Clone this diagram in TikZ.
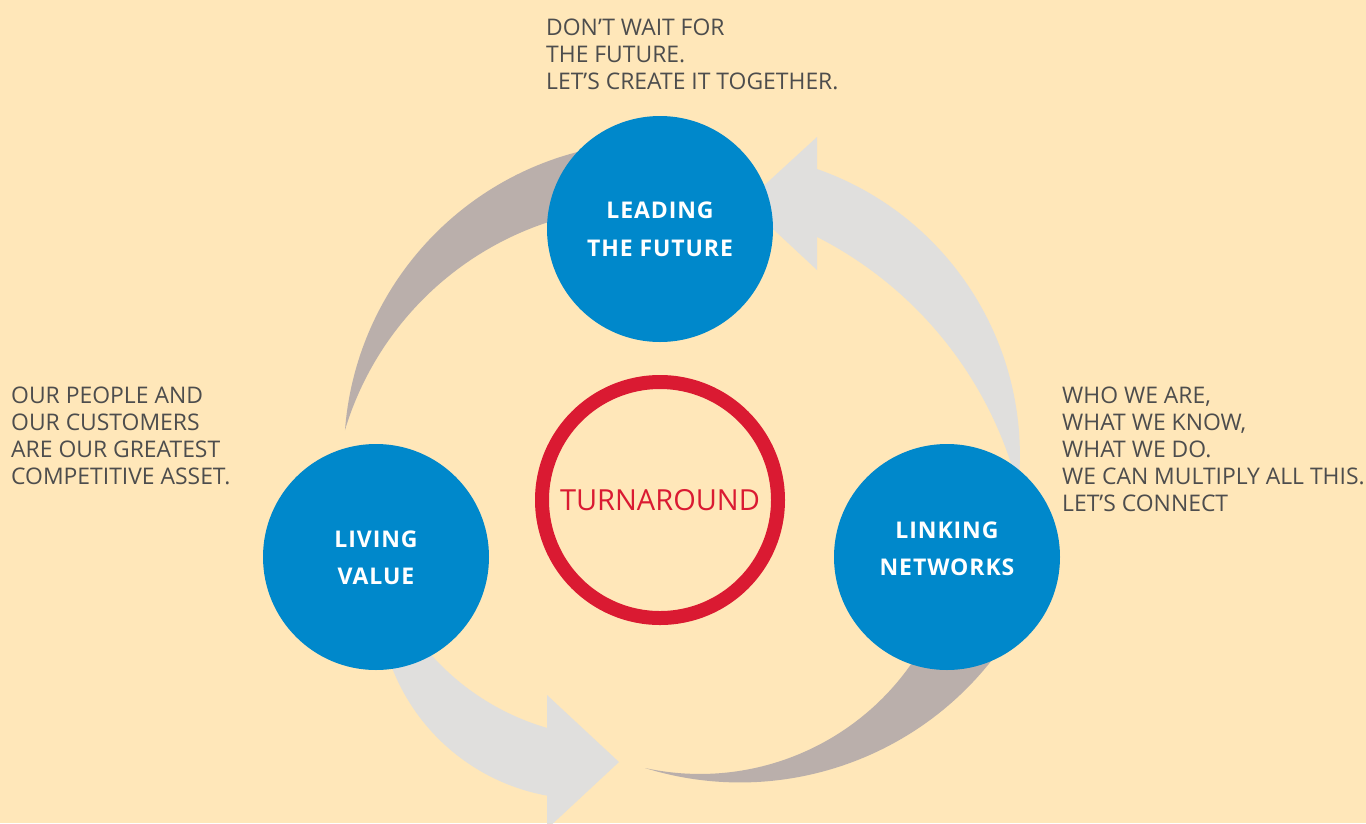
\documentclass[tikz,border=0pt]{standalone}
\usepackage{fontspec}
\setmainfont{Open Sans}
\definecolor{bg}{HTML}{FFE7B9}
\definecolor{cblue}{HTML}{0088CB}
\definecolor{cred}{HTML}{DA1A32}
\definecolor{lgrey}{HTML}{E0DFDD}
\definecolor{taupe}{HTML}{BAAFAB}
\definecolor{txt}{HTML}{4D4D4D}
\tikzset{
  bluedisc/.style={circle, fill=cblue, draw=none, inner sep=0pt, minimum size=226pt},
  disctext/.style={text=white, align=center, inner sep=0pt, font=\bfseries\addfontfeatures{LetterSpace=4}\fontsize{23}{37.5}\selectfont},
  ringnode/.style={circle, draw=cred, line width=14pt, inner sep=0pt, minimum size=236pt},
  note/.style={text=txt, align=left, inner sep=0pt, anchor=north west, font=\fontsize{22.9}{27}\selectfont}
}
\begin{document}
\begin{tikzpicture}[x=1pt,y=-1pt]
\fill[bg] (0,0) rectangle (1366,823);
\useasboundingbox (0,0) rectangle (1366,823);

% top-left taupe crescent
\fill[taupe] (345,430) arc[start angle=184.4, end angle=262, radius=312]
  -- (580.6,213.4) arc[start angle=258, end angle=196.8, radius=314.5] -- cycle;
% top-right light grey arrow
\fill[lgrey] (812,167.3) arc[start angle=288.3, end angle=365, radius=303]
  -- (1013.4,470.8) arc[start angle=-17, end angle=-63.87, radius=390.5] -- cycle;
\fill[lgrey] (817,137) -- (745,203) -- (817,270) -- cycle;
% bottom-left light grey arrow
\fill[lgrey] (385,646.3) arc[start angle=165, end angle=98.93, radius=206]
  -- (552,729.3) arc[start angle=105, end angle=143, radius=247.7] -- cycle;
\fill[lgrey] (547,695) -- (619,762) -- (547,829) -- cycle;
% bottom-right taupe crescent
\fill[taupe] (645,768) arc[start angle=107.25, end angle=33, radius=320.4]
  -- (923.3,645) arc[start angle=30, end angle=102.3, radius=257.9] -- cycle;

% circles
\node[bluedisc] (lead) at (660,229) {};
\node[bluedisc] (live) at (376,557) {};
\node[bluedisc] (link) at (947,557) {};
\node[ringnode] (turn) at (660,500) {};

\node[disctext] (leadt) at (660,229.5) {LEADING\\THE FUTURE};
\node[disctext] (livet) at (376,558) {LIVING\\VALUE};
\node[disctext] (linkt) at (947,549) {LINKING\\NETWORKS};
\node[text=cred, inner sep=0pt, font=\fontsize{29}{32}\selectfont] (turnt) at (turn.center) {TURNAROUND};

% notes
\node[note] (topnote) at (546,18.6) {DON’T WAIT FOR\\THE FUTURE.\\LET’S CREATE IT TOGETHER.};
\node[note] (leftnote) at (11,386.6) {OUR PEOPLE AND\\OUR CUSTOMERS\\ARE OUR GREATEST\\COMPETITIVE ASSET.};
\node[note] (rightnote) at (1062,386.6) {WHO WE ARE,\\WHAT WE KNOW,\\WHAT WE DO.\\WE CAN MULTIPLY ALL THIS.\\LET’S CONNECT};
\end{tikzpicture}
\end{document}
